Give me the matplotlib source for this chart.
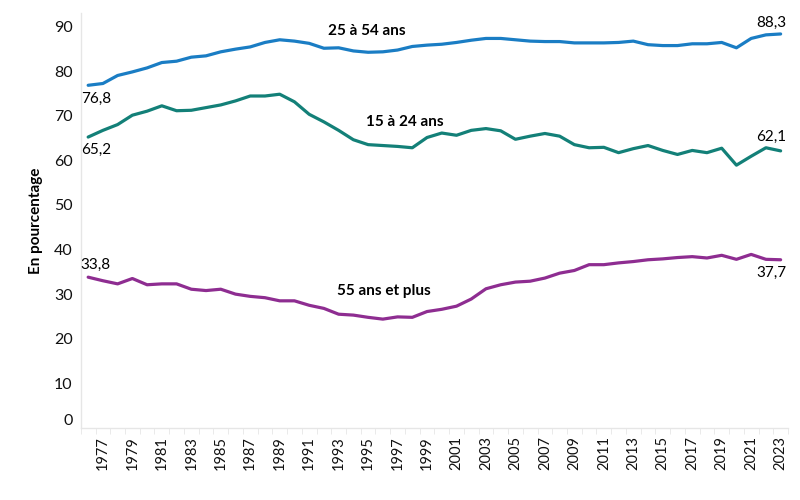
import matplotlib
matplotlib.use('Agg')
import matplotlib.pyplot as plt
import numpy as np

plt.rcParams['font.family'] = ['Lato', 'DejaVu Sans']

# Taux d'activité par groupe d'âge, 1976 à 2023
annees = list(range(1976, 2024))

age_25_54 = [76.8, 77.2, 79.0, 79.8, 80.7, 81.9, 82.2, 83.1, 83.4, 84.3,
             84.9, 85.4, 86.4, 87.0, 86.7, 86.2, 85.1, 85.2, 84.5, 84.2,
             84.3, 84.7, 85.5, 85.8, 86.0, 86.4, 86.9, 87.3, 87.3, 87.0,
             86.7, 86.6, 86.6, 86.3, 86.3, 86.3, 86.4, 86.7, 85.9, 85.7,
             85.7, 86.1, 86.1, 86.4, 85.2, 87.3, 88.1, 88.3]

age_15_24 = [65.2, 66.7, 68.0, 70.1, 71.0, 72.2, 71.1, 71.2, 71.8, 72.4,
             73.3, 74.4, 74.4, 74.8, 73.1, 70.3, 68.6, 66.7, 64.6, 63.5,
             63.3, 63.1, 62.8, 65.1, 66.1, 65.6, 66.7, 67.1, 66.6, 64.7,
             65.4, 66.0, 65.4, 63.5, 62.8, 62.9, 61.7, 62.6, 63.3, 62.2,
             61.3, 62.2, 61.7, 62.7, 58.9, 60.9, 62.8, 62.1]

age_55_plus = [33.8, 33.0, 32.3, 33.5, 32.1, 32.3, 32.3, 31.1, 30.8, 31.1,
               30.0, 29.5, 29.2, 28.5, 28.5, 27.5, 26.8, 25.5, 25.3, 24.8,
               24.4, 24.9, 24.8, 26.1, 26.6, 27.3, 28.9, 31.2, 32.1, 32.7,
               32.9, 33.6, 34.7, 35.3, 36.6, 36.6, 37.0, 37.3, 37.7, 37.9,
               38.2, 38.4, 38.1, 38.7, 37.8, 38.9, 37.8, 37.7]

bleu = '#1a7dc4'
sarcelle = '#138078'
violet = '#8e2d91'

fig = plt.figure(figsize=(8, 5), dpi=100)
ax = fig.add_axes([0.101, 0.144, 0.884, 0.83])

ax.plot(annees, age_25_54, color=bleu, lw=2.3, solid_capstyle='round')
ax.plot(annees, age_15_24, color=sarcelle, lw=2.3, solid_capstyle='round')
ax.plot(annees, age_55_plus, color=violet, lw=2.3, solid_capstyle='round')

ax.set_xlim(1975.5, 2023.5)
ax.set_ylim(0, 93)

# axes
for s in ['top', 'right']:
    ax.spines[s].set_visible(False)
for s in ['left', 'bottom']:
    ax.spines[s].set_color('#e6e6e6')
    ax.spines[s].set_linewidth(1)

ax.set_yticks(range(0, 91, 10))
ax.tick_params(axis='y', length=0, labelsize=11.5, pad=6, labelcolor='#111111')
# le 0 est un peu remonté au-dessus de l'axe
ax.get_yticklabels()[0].set_verticalalignment('bottom')

ax.set_xticks(annees[1::2])
ax.set_xticks(np.arange(1975.5, 2024, 1), minor=True)
ax.tick_params(axis='x', which='major', length=0, labelsize=10.5, rotation=90,
               pad=6, labelcolor='#111111')
ax.tick_params(axis='x', which='minor', length=4, color='#e6e6e6')

ax.set_ylabel('En pourcentage', fontsize=11, fontweight='bold', labelpad=8)

# étiquettes des séries
ax.text(1994.9, 89.0, '25 à 54 ans', fontsize=11, fontweight='bold', ha='center', va='center')
ax.text(1997.5, 68.5, '15 à 24 ans', fontsize=11, fontweight='bold', ha='center', va='center')
ax.text(1996.1, 30.8, '55 ans et plus', fontsize=11, fontweight='bold', ha='center', va='center')

# valeurs de début et de fin
def virgule(v):
    return f'{v:.1f}'.replace('.', ',')

ax.text(1975.5, 73.7, virgule(age_25_54[0]), fontsize=11, ha='left', va='center')
ax.text(1975.5, 62.4, virgule(age_15_24[0]), fontsize=11, ha='left', va='center')
ax.text(1975.5, 36.6, virgule(age_55_plus[0]), fontsize=11, ha='left', va='center')
ax.text(2023.4, 90.8, virgule(age_25_54[-1]), fontsize=11, ha='right', va='center')
ax.text(2023.4, 65.2, virgule(age_15_24[-1]), fontsize=11, ha='right', va='center')
ax.text(2023.4, 34.8, virgule(age_55_plus[-1]), fontsize=11, ha='right', va='center')

fig.savefig('out.png', dpi=100)
